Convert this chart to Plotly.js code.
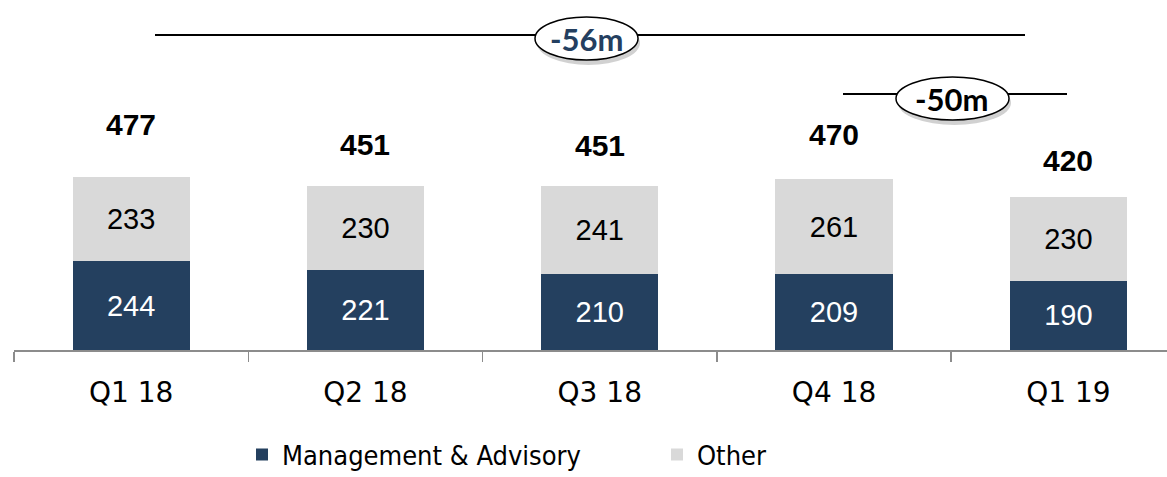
<!DOCTYPE html>
<html>
<head>
<meta charset="utf-8">
<script src="https://cdn.plot.ly/plotly-3.0.1.min.js"></script>
<style>html,body{margin:0;padding:0;background:#fff;}#chart{width:1167px;height:477px;}</style>
</head>
<body>
<div id="chart"></div>
<script>
// ---- data ----
const quarters = ["Q1 18", "Q2 18", "Q3 18", "Q4 18", "Q1 19"];
const management = [244, 221, 210, 209, 190];
const other = [233, 230, 241, 261, 230];
const totals = [477, 451, 451, 470, 420];
const bracketLabels = ["-56m", "-50m"];

// ---- style / layout ----
const navy = "#24405F";
const grey = "#D9D9D9";
const numFont = "Liberation Sans, Arial, sans-serif";
const axisFont = "DejaVu Sans, sans-serif";
const legendFont = "DejaVu Sans Condensed, DejaVu Sans, sans-serif";
const totalShift = [34, 23, 22, 26, 18];

const traces = [
  {
    type: "bar", name: "Management & Advisory", x: quarters, y: management,
    marker: {color: navy}, width: 0.5,
    text: management.map(String), textposition: "inside", insidetextanchor: "middle",
    textfont: {color: "#ffffff", size: 29, family: numFont},
    hoverinfo: "skip"
  },
  {
    type: "bar", name: "Other", x: quarters, y: other,
    marker: {color: grey}, width: 0.5,
    text: other.map(String), textposition: "inside", insidetextanchor: "middle",
    textfont: {color: "#000000", size: 29, family: numFont},
    hoverinfo: "skip"
  }
];

const annotations = totals.map((t, i) => ({
  x: quarters[i], y: t, xref: "x", yref: "y", text: String(t), showarrow: false,
  yanchor: "bottom", yshift: totalShift[i],
  font: {family: numFont, size: 30, color: "#000", weight: "bold"}
}));

function px2x(p) { return (p - 14) / 1153; }
function py2y(p) { return (350 - p) / 340; }

annotations.push({
  x: px2x(587), y: py2y(39), xref: "paper", yref: "paper", text: bracketLabels[0],
  showarrow: false, xanchor: "center", yanchor: "middle",
  font: {family: "Lato, sans-serif", size: 31, color: "#243F60", weight: "bold"}
});
annotations.push({
  x: px2x(952), y: py2y(99), xref: "paper", yref: "paper", text: bracketLabels[1],
  showarrow: false, xanchor: "center", yanchor: "middle",
  font: {family: "Lato, sans-serif", size: 31, color: "#000", weight: "bold"}
});

const shapes = [
  {type: "line", xref: "paper", yref: "paper", x0: px2x(155), x1: px2x(1025), y0: py2y(35), y1: py2y(35), line: {color: "#000", width: 2}},
  {type: "line", xref: "paper", yref: "paper", x0: px2x(843), x1: px2x(1067), y0: py2y(94), y1: py2y(94), line: {color: "#000", width: 2}},
  // shadows
  {type: "circle", xref: "paper", yref: "paper", x0: px2x(537), x1: px2x(640), y0: py2y(21), y1: py2y(65), fillcolor: "rgba(0,0,0,0.18)", line: {width: 0}},
  {type: "circle", xref: "paper", yref: "paper", x0: px2x(898), x1: px2x(1011), y0: py2y(81), y1: py2y(125), fillcolor: "rgba(0,0,0,0.18)", line: {width: 0}},
  // ellipses
  {type: "circle", xref: "paper", yref: "paper", x0: px2x(535), x1: px2x(638), y0: py2y(17), y1: py2y(60), fillcolor: "#ffffff", line: {color: "#000", width: 1.5}},
  {type: "circle", xref: "paper", yref: "paper", x0: px2x(896), x1: px2x(1009), y0: py2y(77), y1: py2y(120), fillcolor: "#ffffff", line: {color: "#000", width: 1.5}}
];

const layout = {
  width: 1167, height: 477,
  margin: {l: 14, r: 0, t: 10, b: 127, pad: 0, autoexpand: false},
  barmode: "stack",
  paper_bgcolor: "#ffffff", plot_bgcolor: "#ffffff",
  showlegend: true,
  legend: {
    orientation: "h", x: px2x(242), xanchor: "left", y: py2y(455), yanchor: "middle",
    font: {family: legendFont, size: 27, color: "#000"}, traceorder: "normal",
    entrywidth: 370, itemwidth: 30, bgcolor: "rgba(0,0,0,0)"
  },
  xaxis: {
    type: "category", range: [-0.5, 4.421], showgrid: false, zeroline: false,
    showline: true, linecolor: "#8C8C8C", linewidth: 1.5,
    ticks: "outside", tickson: "boundaries", ticklen: 10, tickcolor: "#8C8C8C", tickwidth: 1.5,
    tickfont: {family: axisFont, size: 28, color: "#000"}, ticklabelstandoff: 17,
    automargin: false, fixedrange: true
  },
  yaxis: {
    range: [0, 935.6], visible: false, showgrid: false, zeroline: false, automargin: false, fixedrange: true
  },
  annotations: annotations,
  shapes: shapes,
  uniformtext: {mode: false}
};

Plotly.newPlot("chart", traces, layout, {displayModeBar: false, staticPlot: true});
</script>
</body>
</html>
